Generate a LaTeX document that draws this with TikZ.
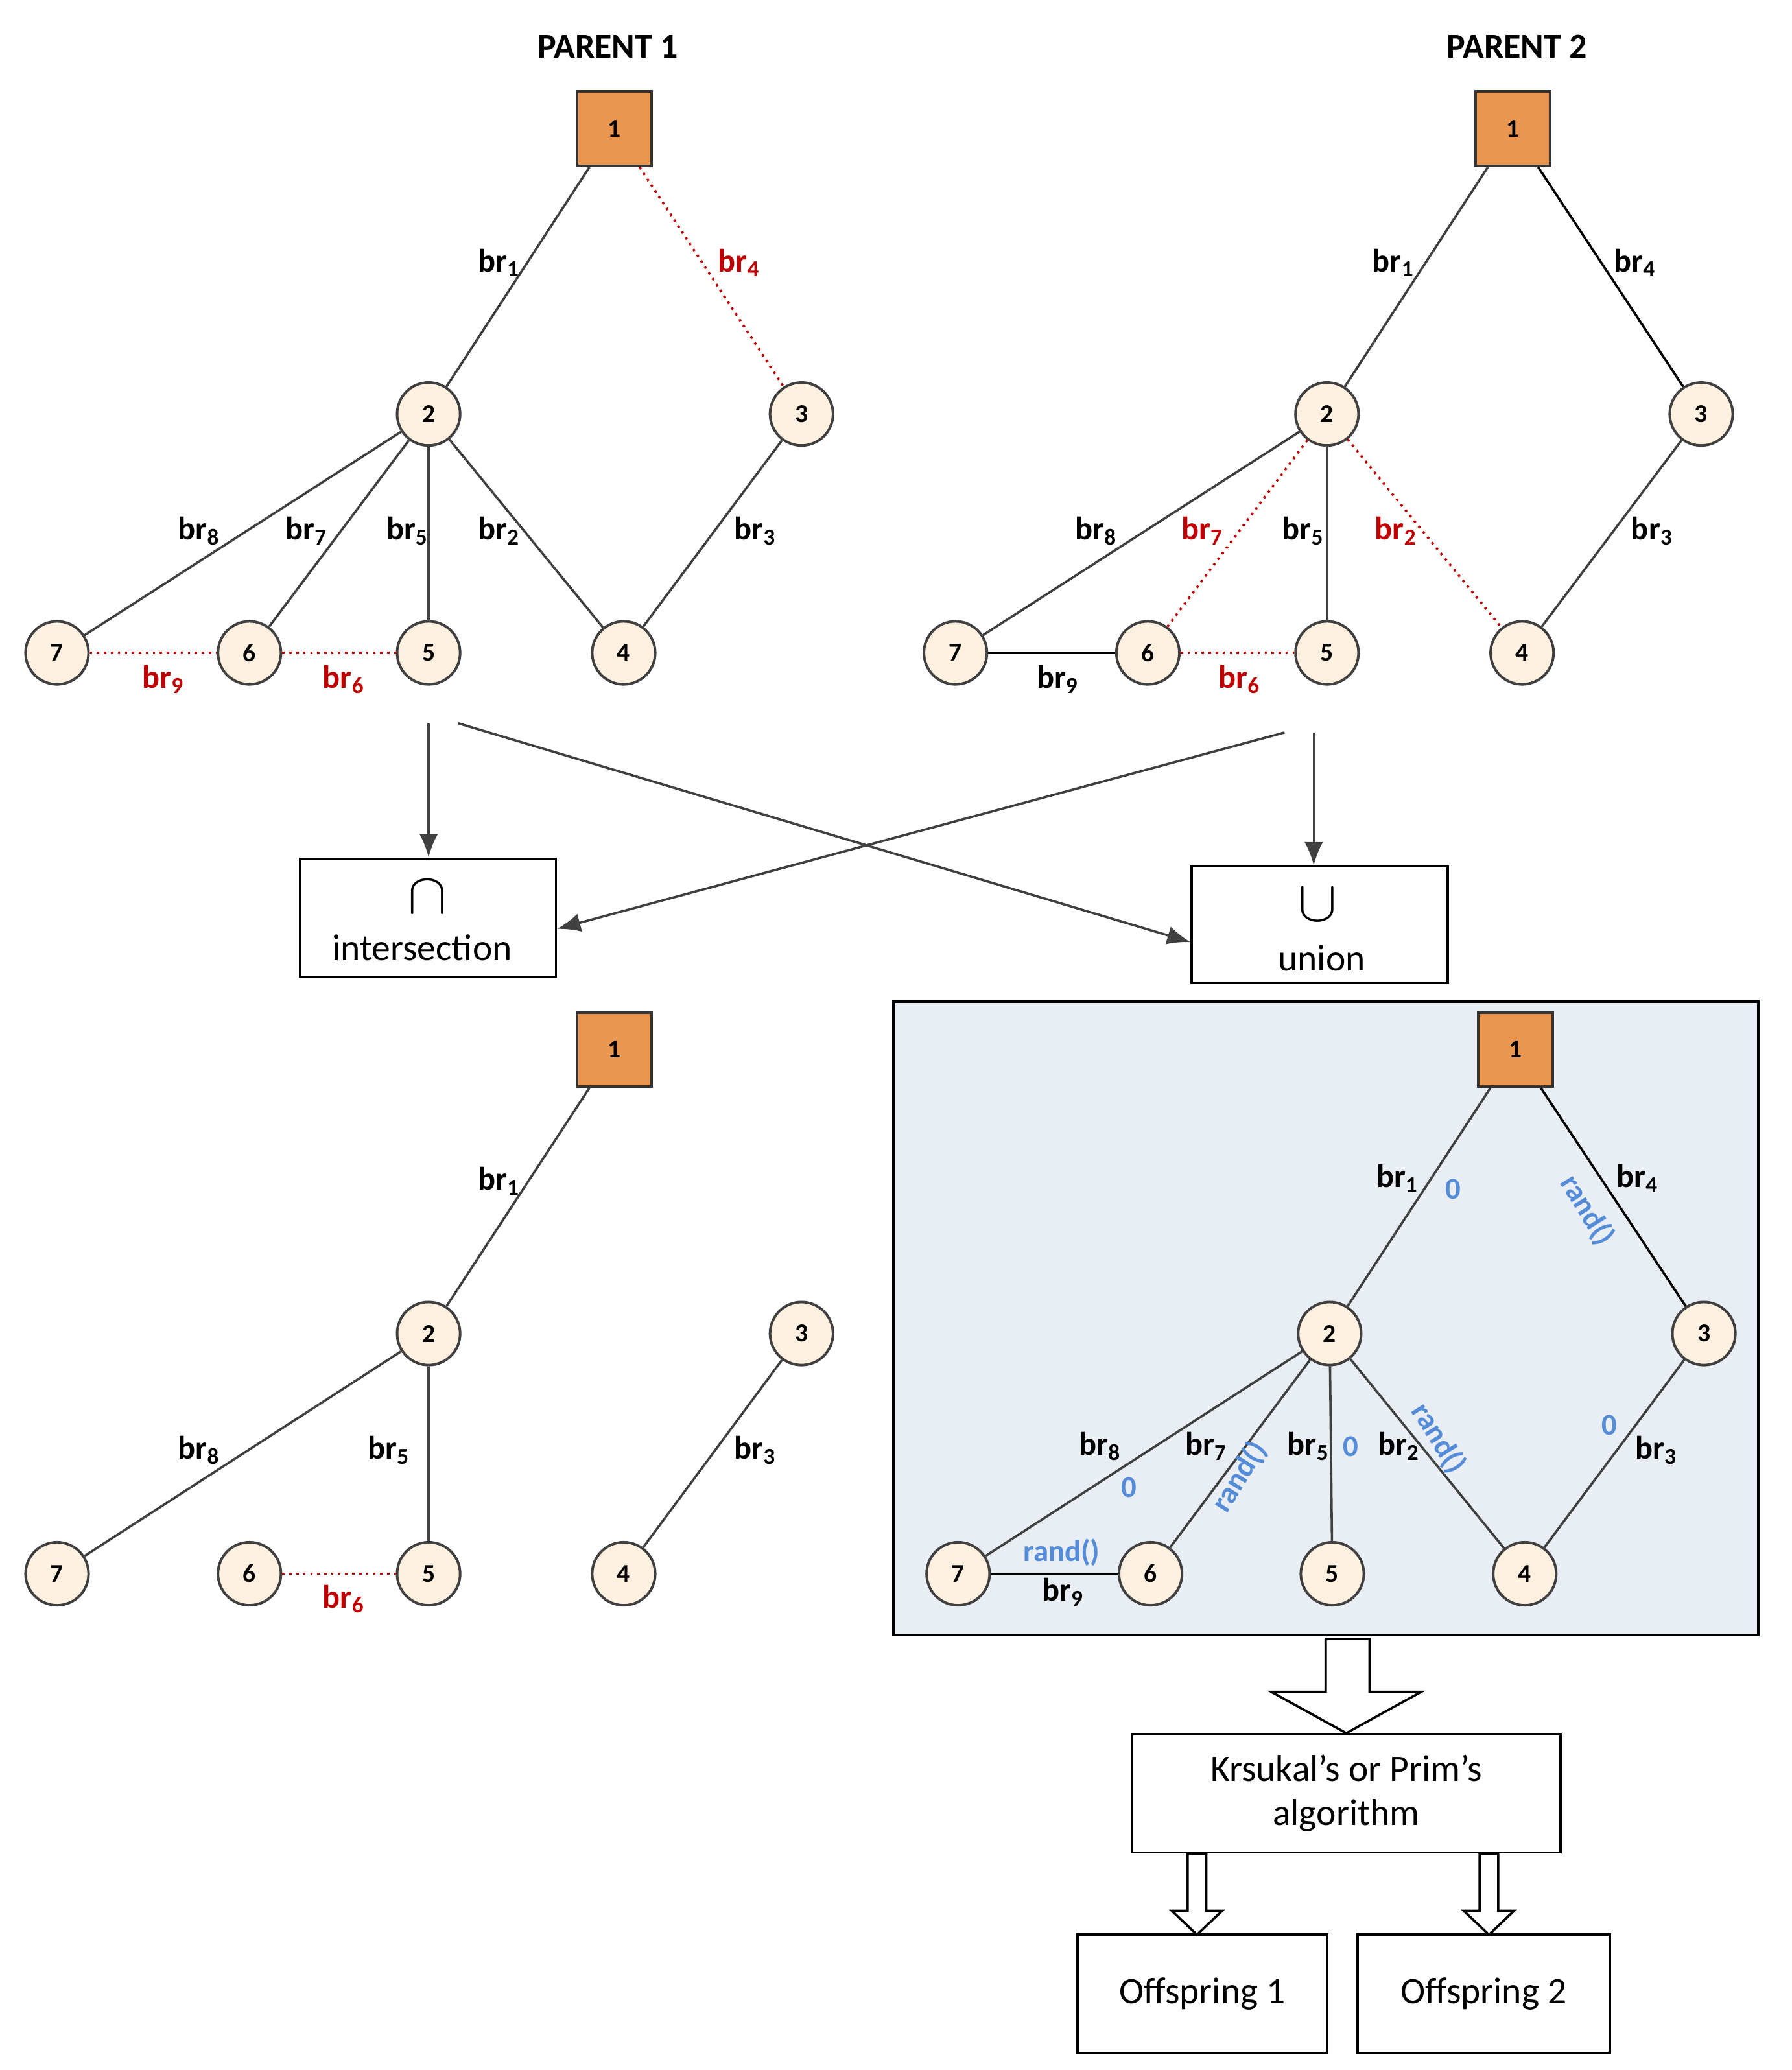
\documentclass[tikz,border=0pt]{standalone}
\usepackage{fontspec}
\setmainfont{Carlito}
\usetikzlibrary{arrows.meta}
\begin{document}
\begin{tikzpicture}[x=0.02cm,y=-0.02cm,
 sq/.style={draw=black!80,line width=1.1pt,minimum size=1.12cm,font=\bfseries\fontsize{11}{13}\selectfont},
 cn/.style={circle,draw=black!75,line width=1.1pt,fill=orange!12,minimum size=0.95cm,inner sep=0pt,font=\bfseries\fontsize{11}{13}\selectfont},
 ed/.style={draw=black!75,line width=1pt},
 red/.style={draw=red!75!black,line width=1pt,dotted},
 lb/.style={font=\bfseries\fontsize{14}{16}\selectfont},
 rl/.style={lb,text=red!75!black},
 bl/.style={font=\bfseries\fontsize{13}{15}\selectfont,text=bluec},
 box/.style={draw,line width=1pt,fill=white,font=\fontsize{16}{19}\selectfont,align=center},
 arr/.style={draw=black!75,line width=1pt,-{Latex[length=10pt,width=8pt]}},
 hol/.style={draw,line width=1pt,fill=white}]
\useasboundingbox (0,0) rectangle (1350,1560);
\definecolor{sqc}{RGB}{233,150,80}
\definecolor{bluec}{RGB}{85,140,215}
\definecolor{panelc}{RGB}{233,238,245}
\tikzset{sq/.append style={fill=sqc}}
% titles
\node[lb,font=\bfseries\fontsize{15}{17}\selectfont] (t1) at (458,35) {PARENT 1};
\node[lb,font=\bfseries\fontsize{15}{17}\selectfont] (t2) at (1143,35) {PARENT 2};
% Parent 1
\node[sq] (a1) at (463,97) {1};
\node[cn] (a2) at (323,312) {2};
\node[cn] (a3) at (604,312) {3};
\node[cn] (a7) at (43,492) {7};
\node[cn] (a6) at (188,492) {6};
\node[cn] (a5) at (323,492) {5};
\node[cn] (a4) at (470,492) {4};
\draw[ed] (a1)--(a2); \draw[red] (a1)--(a3);
\draw[ed] (a2)--(a7); \draw[ed] (a2)--(a6); \draw[ed] (a2)--(a5); \draw[ed] (a2)--(a4); \draw[ed] (a3)--(a4);
\draw[red] (a7)--(a6); \draw[red] (a6)--(a5);
\node[lb] (la1) at (376,198) {br\textsubscript{1}};
\node[rl] (la4) at (557,198) {br\textsubscript{4}};
\node[lb] (la8) at (150,400) {br\textsubscript{8}};
\node[lb] (la7) at (231,400) {br\textsubscript{7}};
\node[lb] (la5) at (307,400) {br\textsubscript{5}};
\node[lb] (la2) at (376,400) {br\textsubscript{2}};
\node[lb] (la3) at (569,400) {br\textsubscript{3}};
\node[rl] (la9) at (123,512) {br\textsubscript{9}};
\node[rl] (la6) at (259,512) {br\textsubscript{6}};
% Parent 2
\node[sq] (b1) at (1140,97) {1};
\node[cn] (b2) at (1000,312) {2};
\node[cn] (b3) at (1282,312) {3};
\node[cn] (b7) at (720,492) {7};
\node[cn] (b6) at (865,492) {6};
\node[cn] (b5) at (1000,492) {5};
\node[cn] (b4) at (1147,492) {4};
\draw[ed] (b1)--(b2); \draw[ed,black] (b1)--(b3);
\draw[ed] (b2)--(b7); \draw[red] (b2)--(b6); \draw[ed] (b2)--(b5); \draw[red] (b2)--(b4); \draw[ed] (b3)--(b4);
\draw[ed,black] (b7)--(b6); \draw[red] (b6)--(b5);
\node[lb] (lb1) at (1050,198) {br\textsubscript{1}};
\node[lb] (lb4) at (1232,198) {br\textsubscript{4}};
\node[lb] (lb8) at (826,400) {br\textsubscript{8}};
\node[rl] (lb7) at (906,400) {br\textsubscript{7}};
\node[lb] (lb5) at (982,400) {br\textsubscript{5}};
\node[rl] (lb2) at (1052,400) {br\textsubscript{2}};
\node[lb] (lb3) at (1245,400) {br\textsubscript{3}};
\node[lb] (lb9) at (797,512) {br\textsubscript{9}};
\node[rl] (lb6) at (934,512) {br\textsubscript{6}};
% operators
\node[box,minimum width=3.86cm,minimum height=1.78cm] (inter) at (322.5,691.5) {};
\node[font=\fontsize{28}{28}\selectfont] (capn) at (322,676) {$\cap$};
\node[font=\fontsize{16}{19}\selectfont] (intt) at (318,714) {intersection};
\node[box,minimum width=3.86cm,minimum height=1.76cm] (uni) at (994.5,697) {};
\node[font=\fontsize{28}{28}\selectfont] (cupn) at (993,682) {$\cup$};
\node[font=\fontsize{16}{19}\selectfont] (unit) at (996,722) {union};
\coordinate (s1) at (323,545); \coordinate (s2) at (345,545);
\coordinate (s3) at (968,552); \coordinate (s4) at (990,552);
\draw[arr] (s1) -- (inter.north -| s1);
\draw[arr] (s2) -- (uni.west |- 0,710);
\draw[arr] (s3) -- (inter.east |- 0,700);
\draw[arr] (s4) -- (uni.north -| s4);
% bottom-left graph
\node[sq] (c1) at (463,791) {1};
\node[cn] (c2) at (323,1005) {2};
\node[cn] (c3) at (604,1005) {3};
\node[cn] (c7) at (43,1186) {7};
\node[cn] (c6) at (188,1186) {6};
\node[cn] (c5) at (323,1186) {5};
\node[cn] (c4) at (470,1186) {4};
\draw[ed] (c1)--(c2); \draw[ed] (c2)--(c7); \draw[ed] (c2)--(c5); \draw[ed] (c3)--(c4);
\draw[red] (c6)--(c5);
\node[lb] (lc1) at (376,890) {br\textsubscript{1}};
\node[lb] (lc8) at (150,1093) {br\textsubscript{8}};
\node[lb] (lc5) at (293,1093) {br\textsubscript{5}};
\node[lb] (lc3) at (569,1093) {br\textsubscript{3}};
\node[rl] (lc6) at (259,1205) {br\textsubscript{6}};
% union graph panel
\node[draw,line width=1.1pt,fill=panelc,minimum width=13.04cm,minimum height=9.54cm] (panel) at (999,993.5) {};
\node[sq] (d1) at (1142,791) {1};
\node[cn] (d2) at (1002,1005) {2};
\node[cn] (d3) at (1284,1005) {3};
\node[cn] (d7) at (722,1186) {7};
\node[cn] (d6) at (867,1186) {6};
\node[cn] (d5) at (1004,1186) {5};
\node[cn] (d4) at (1149,1186) {4};
\draw[ed] (d1)--(d2); \draw[ed,black] (d1)--(d3);
\draw[ed] (d2)--(d7); \draw[ed] (d2)--(d6); \draw[ed] (d2)--(d5); \draw[ed] (d2)--(d4); \draw[ed] (d3)--(d4);
\draw[ed,black] (d7)--(d6);
\node[lb] (ld1) at (1053,888) {br\textsubscript{1}};
\node[bl] (z1) at (1095,896) {0};
\node[lb] (ld4) at (1234,888) {br\textsubscript{4}};
\node[bl,rotate=-58] (r4) at (1196,912) {rand()};
\node[lb] (ld8) at (829,1090) {br\textsubscript{8}};
\node[bl] (z8) at (851,1121) {0};
\node[lb] (ld7) at (909,1090) {br\textsubscript{7}};
\node[bl,rotate=58] (r7) at (934,1113) {rand()};
\node[lb] (ld5) at (986,1090) {br\textsubscript{5}};
\node[bl] (z5) at (1018,1090) {0};
\node[lb] (ld2) at (1054,1090) {br\textsubscript{2}};
\node[bl,rotate=-58] (r2) at (1084,1084) {rand()};
\node[bl] (z3) at (1213,1074) {0};
\node[lb] (ld3) at (1248,1093) {br\textsubscript{3}};
\node[bl] (r9) at (800,1170) {rand()};
\node[lb] (ld9) at (801,1200) {br\textsubscript{9}};
% algorithm box and hollow arrows
\node[box,minimum width=6.46cm,minimum height=1.78cm] (alg) at (1014.5,1351.5) {Krsukal’s or Prim’s\\algorithm};
\draw[hol] (999,1235) -- (1032,1235) -- (1032,1275) -- (1071,1275) -- (alg.north) -- (958,1275) -- (999,1275) -- cycle;
\node[box,minimum width=3.76cm,minimum height=1.78cm] (o1) at (906,1502.5) {Offspring 1};
\node[box,minimum width=3.8cm,minimum height=1.78cm] (o2) at (1118,1502.5) {Offspring 2};
\draw[hol] (895,1397) -- (909,1397) -- (909,1440) -- (921,1440) -- (902,1458) -- (883,1440) -- (895,1440) -- cycle;
\draw[hol] (1115,1397) -- (1129,1397) -- (1129,1440) -- (1141,1440) -- (1122,1458) -- (1103,1440) -- (1115,1440) -- cycle;
\end{tikzpicture}
\end{document}
